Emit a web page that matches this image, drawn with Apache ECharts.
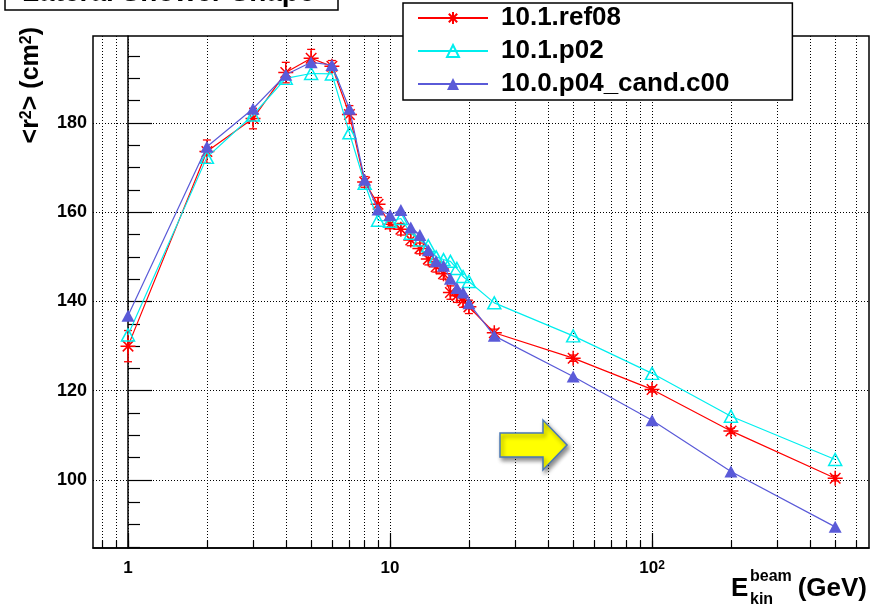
<!DOCTYPE html>
<html>
<head>
<meta charset="utf-8">
<script src="https://cdn.jsdelivr.net/npm/echarts@6/dist/echarts.min.js"></script>
<style>
html,body{margin:0;padding:0;background:#fff;}
#chart{width:870px;height:609px;}
</style>
</head>
<body>
<div id="chart"></div>
<script>
// ---------------- data ----------------
const energies = [1, 2, 3, 4, 5, 6, 7, 8, 9, 10, 11, 12, 13, 14, 15, 16, 17, 18, 19, 20, 25, 50, 100, 200, 500];
const ref08 = [130.0, 173.6, 181.0, 191.3, 194.5, 192.7, 181.9, 166.8, 161.8, 157.3, 156.2, 153.8, 151.9, 149.5, 147.8, 146.2, 142.0, 141.3, 140.2, 138.8, 133.0, 127.3, 120.3, 111.0, 100.4];
const ref08Err = [3.5, 2.6, 2.3, 2.3, 2.0, 1.3, 2.0, 1.2, 1.5, 1.0, 1.3, 1.3, 1.2, 1.3, 1.2, 1.2, 1.5, 1.5, 1.5, 1.5, 0.8, 0.7, 0.6, 0.6, 0.6];
const p02 = [132.5, 172.3, 181.8, 190.0, 191.1, 191.0, 177.8, 166.5, 158.2, 158.0, 158.6, 155.3, 153.8, 152.5, 150.0, 149.4, 149.0, 147.4, 145.6, 144.5, 139.7, 132.3, 123.9, 114.3, 104.6];
const candC00 = [136.8, 174.7, 183.2, 190.8, 193.6, 193.0, 183.2, 167.3, 160.6, 159.4, 160.5, 156.6, 154.9, 151.5, 149.0, 148.0, 145.1, 143.0, 142.0, 139.6, 132.3, 123.2, 113.4, 101.9, 89.5];
const seriesNames = ['10.1.ref08', '10.1.p02', '10.0.p04_cand.c00'];
const xMajorTicks = [1, 10, 100];
const xMinorTicks = [0.8, 0.9, 1, 2, 3, 4, 5, 6, 7, 8, 9, 10, 20, 30, 40, 50, 60, 70, 80, 90, 100, 200, 300, 400, 500, 600];
const yMajorTicks = [100, 120, 140, 160, 180];
const yMinorTicks = [85, 90, 95, 105, 110, 115, 125, 130, 135, 145, 150, 155, 165, 170, 175, 185, 190, 195];
const xRange = [0.7352, 673];
const yRange = [84.76, 199.5];
const titleText = 'Lateral Shower Shape';
// ---------------------------------------

const FONT = "'Liberation Sans', Arial, Helvetica, sans-serif";
const lg = v => Math.log10(v);
const RED = '#ff0000', CYAN = '#00eeee', BLUE = '#5a5ad8';
const starPath = 'path://M5,0L5,10M0,5L10,5M1.5,1.5L8.5,8.5M1.5,8.5L8.5,1.5';

const chart = echarts.init(document.getElementById('chart'), null, {renderer: 'canvas'});

const mk = arr => energies.map((e, i) => [lg(e), arr[i]]);
const dotted = {color: '#000', width: 1, type: [1, 2]};

const xCommon = {type: 'value', min: lg(xRange[0]), max: lg(xRange[1]), position: 'bottom'};
const yCommon = {type: 'value', min: yRange[0], max: yRange[1], position: 'left'};

const option = {
  animation: false,
  textStyle: {fontFamily: FONT},
  grid: {left: 93, top: 36, right: 1, bottom: 61, show: true, borderColor: '#000', borderWidth: 1.5, backgroundColor: '#fff'},
  xAxis: [
    Object.assign({}, xCommon, {
      axisLine: {show: true, lineStyle: {color: '#000', width: 1.5}},
      axisTick: {show: true, inside: true, length: 15, customValues: xMajorTicks.map(lg), lineStyle: {color: '#000', width: 1.2}},
      axisLabel: {show: true, customValues: xMajorTicks.map(lg), margin: 12, color: '#000',
        fontFamily: FONT, fontWeight: 'bold', fontSize: 17,
        formatter: v => { const p = Math.round(v); return p === 0 ? '1' : (p === 1 ? '10' : '10{s|' + p + '}'); },
        rich: {s: {fontFamily: FONT, fontWeight: 'bold', fontSize: 12, verticalAlign: 'top', lineHeight: 12, padding: [0, 0, 6, 0]}}},
      splitLine: {show: false}
    }),
    Object.assign({}, xCommon, {
      axisLine: {show: false},
      axisTick: {show: true, inside: true, length: 7.5, customValues: xMinorTicks.map(lg), lineStyle: {color: '#000', width: 1.2}},
      axisLabel: {show: false},
      splitLine: {show: true, lineStyle: dotted}
    })
  ],
  yAxis: [
    Object.assign({}, yCommon, {
      axisLine: {show: true, lineStyle: {color: '#000', width: 1.5}},
      axisTick: {show: true, inside: true, length: 24, customValues: yMajorTicks, lineStyle: {color: '#000', width: 1.2}},
      axisLabel: {show: true, customValues: yMajorTicks, margin: 6, color: '#000', fontFamily: FONT, fontWeight: 'bold', fontSize: 18},
      splitLine: {show: true, lineStyle: dotted}
    }),
    Object.assign({}, yCommon, {
      axisLine: {show: false},
      axisTick: {show: true, inside: true, length: 12, customValues: yMinorTicks, lineStyle: {color: '#000', width: 1.2}},
      axisLabel: {show: false},
      splitLine: {show: false}
    })
  ],
  legend: {
    data: seriesNames,
    orient: 'vertical', left: 403, top: 3,
    padding: [2, 63, 3, 14],
    itemWidth: 70, itemHeight: 15, itemGap: 7,
    backgroundColor: '#fff', borderColor: '#000', borderWidth: 1.5, borderRadius: 0,
    textStyle: {fontFamily: FONT, fontWeight: 'bold', fontSize: 26, color: '#000', lineHeight: 26, padding: [0, 0, 0, 8]},
    z: 10
  },
  series: [
    {
      name: seriesNames[0], type: 'line', data: mk(ref08), xAxisIndex: 0, yAxisIndex: 0,
      symbol: starPath, symbolSize: 15, showSymbol: true,
      itemStyle: {color: RED, borderColor: RED, borderWidth: 1.5},
      lineStyle: {color: RED, width: 1.2}, z: 3
    },
    {
      name: seriesNames[0] + ' err', type: 'custom', xAxisIndex: 0, yAxisIndex: 0,
      data: energies.map((e, i) => [lg(e), ref08[i], ref08Err[i]]),
      encode: {x: 0, y: 1},
      renderItem: (params, api) => {
        const x = api.value(0), y = api.value(1), e = api.value(2);
        const t = api.coord([x, y + e]), b = api.coord([x, y - e]);
        const w = 4;
        const st = {stroke: RED, lineWidth: 1.3};
        return {type: 'group', children: [
          {type: 'line', shape: {x1: t[0], y1: t[1], x2: b[0], y2: b[1]}, style: st},
          {type: 'line', shape: {x1: t[0] - w, y1: t[1], x2: t[0] + w, y2: t[1]}, style: st},
          {type: 'line', shape: {x1: b[0] - w, y1: b[1], x2: b[0] + w, y2: b[1]}, style: st}
        ]};
      },
      z: 3, silent: true
    },
    {
      name: seriesNames[1], type: 'line', data: mk(p02), xAxisIndex: 0, yAxisIndex: 0,
      symbol: 'triangle', symbolSize: [13, 12], showSymbol: true,
      itemStyle: {color: 'rgba(255,255,255,0)', borderColor: CYAN, borderWidth: 1.5},
      lineStyle: {color: CYAN, width: 1.2}, z: 4
    },
    {
      name: seriesNames[2], type: 'line', data: mk(candC00), xAxisIndex: 0, yAxisIndex: 0,
      symbol: 'triangle', symbolSize: [13, 12], showSymbol: true,
      itemStyle: {color: BLUE, borderColor: BLUE, borderWidth: 0},
      lineStyle: {color: BLUE, width: 1.2}, z: 5
    }
  ],
  graphic: [
    {type: 'rect', z: 20, shape: {x: 5, y: -30, width: 333, height: 40},
     style: {fill: '#fff', stroke: '#000', lineWidth: 1.5}},
    {type: 'text', z: 21, x: 22, y: -7,
     style: {text: titleText, fontFamily: FONT, fontWeight: 'bold', fontSize: 28, fill: '#000', align: 'left', verticalAlign: 'middle'}},
    {type: 'text', z: 21, x: 31, y: 27, rotation: Math.PI / 2,
     style: {text: '<r{s|2}> (cm{s|2})', fontFamily: FONT, fontWeight: 'bold', fontSize: 25, fill: '#000',
       align: 'right', verticalAlign: 'middle',
       rich: {s: {fontFamily: FONT, fontWeight: 'bold', fontSize: 16, verticalAlign: 'top', lineHeight: 16, padding: [0, 0, 9, 0]}}}},
    {type: 'text', z: 21, x: 731, y: 589,
     style: {text: 'E', fontFamily: FONT, fontWeight: 'bold', fontSize: 26, fill: '#000', align: 'left', verticalAlign: 'middle'}},
    {type: 'text', z: 21, x: 750, y: 577,
     style: {text: 'beam', fontFamily: FONT, fontWeight: 'bold', fontSize: 16, fill: '#000', align: 'left', verticalAlign: 'middle'}},
    {type: 'text', z: 21, x: 750, y: 600,
     style: {text: 'kin', fontFamily: FONT, fontWeight: 'bold', fontSize: 16, fill: '#000', align: 'left', verticalAlign: 'middle'}},
    {type: 'text', z: 21, x: 867, y: 589,
     style: {text: '(GeV)', fontFamily: FONT, fontWeight: 'bold', fontSize: 26, fill: '#000', align: 'right', verticalAlign: 'middle'}},
    {type: 'polygon', z: 20,
     shape: {points: [[500, 433], [543, 433], [543, 420], [567, 445], [543, 470], [543, 457], [500, 457]]},
     style: {fill: '#ffff00', stroke: '#4a78b5', lineWidth: 1.5, shadowBlur: 4, shadowColor: 'rgba(0,0,0,0.45)', shadowOffsetX: 2, shadowOffsetY: 3}}
  ]
};

chart.setOption(option);
</script>
</body>
</html>
